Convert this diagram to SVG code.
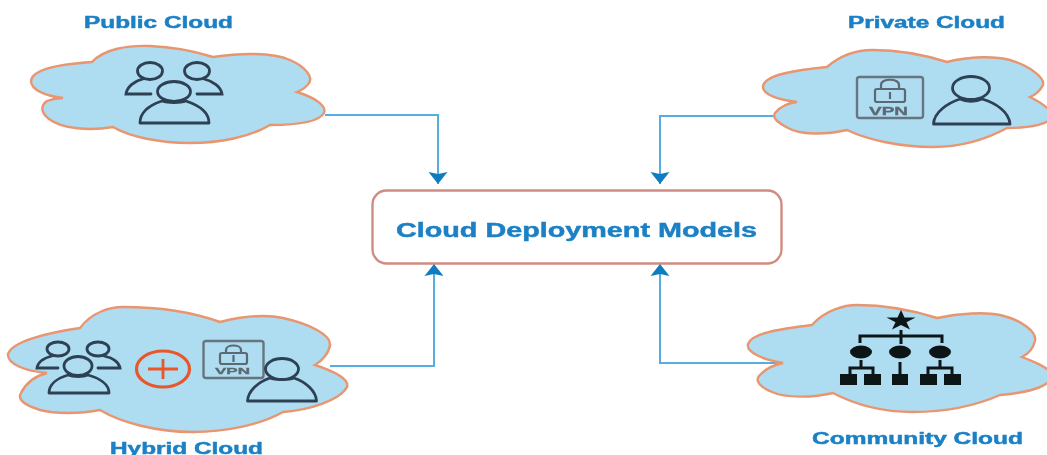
<svg xmlns="http://www.w3.org/2000/svg" width="1047" height="455" viewBox="0 0 1047 455">
<style>
.cloud{fill:#aedcf1;stroke:#e9956f;stroke-width:2.4}
.lbl{font-family:"Liberation Sans",Arial,sans-serif;font-weight:700;fill:#1b80c4;stroke:#1b80c4;stroke-width:.45}
.p{fill:#aedcf1;stroke:#2f4052;stroke-width:2.8;stroke-linejoin:round}
.o{fill:none;stroke:#2f4052;stroke-width:2.8;stroke-linecap:round}
.vb{fill:#aedcf1;stroke:#66757f;stroke-width:2.4}
.vl{fill:none;stroke:#5b6972;stroke-width:2.2}
.vt{font-family:"Liberation Sans",Arial,sans-serif;font-weight:700;fill:#5b6972;stroke:#5b6972;stroke-width:.3}
.conn{fill:none;stroke:#55aede;stroke-width:2}
.k{fill:#111418}
.kl{fill:none;stroke:#111418;stroke-width:3}
</style>
<defs>
<filter id="soft" x="-2%" y="-2%" width="104%" height="104%"><feGaussianBlur stdDeviation="0.65"/></filter>
<marker id="arr" markerUnits="userSpaceOnUse" markerWidth="14" markerHeight="20" refX="12" refY="10" orient="auto"><path d="M0 0.500L12 10L0 19.500L2 10Z" fill="#0f7cc0"/></marker>
</defs>
<rect width="1047" height="455" fill="#fff"/>
<g filter="url(#soft)">
<g id="connectors">
<path class="conn" d="M325 115H438V184" marker-end="url(#arr)"/>
<path class="conn" d="M775 116H660V184" marker-end="url(#arr)"/>
<path class="conn" d="M330 366H434V264" marker-end="url(#arr)"/>
<path class="conn" d="M784 363H660V264" marker-end="url(#arr)"/>
</g>
<g id="center">
<rect x="372.500" y="190.500" width="409" height="73" rx="14" fill="#fff" stroke="#d08c82" stroke-width="2.4"/>
<text class="lbl" x="396" y="236.500" font-size="20" textLength="361" lengthAdjust="spacingAndGlyphs">Cloud Deployment Models</text>
</g>
<g id="public-cloud">
<text class="lbl" x="84" y="28" font-size="16" textLength="149" lengthAdjust="spacingAndGlyphs">Public Cloud</text>
<path class="cloud" d="M31 81C32 69 62 64 92 62C104 49 128 45 150 46C175 47 197 52 213 57C240 53 272 52 290 60C306 67 313 77 309 83C306 88 302 90 297 92C313 97 327 105 324 113C319 122 295 125 270 125C250 137 220 143 190 143C160 143 130 137 113 127C90 131 62 129 49 119C40 112 41 105 47 101C52 99 57 98 63 98C46 96 31 90 31 81Z"/>
<path class="o" d="M151 94H126C127 87 134 81 143 79"/><ellipse class="p" cx="150" cy="71" rx="12.500" ry="8.500"/>
<path class="o" d="M197 94H222C221 87 213 81 204 79"/><ellipse class="p" cx="197" cy="71" rx="12.500" ry="8.500"/>
<path class="p" d="M140 123C140 112 150 105 162 101C168 103 180 103 186 101C198 105 209 112 209 123Z"/><ellipse class="p" cx="174" cy="91.500" rx="16.500" ry="10"/>
</g>
<g id="private-cloud">
<text class="lbl" x="848" y="28" font-size="16" textLength="157" lengthAdjust="spacingAndGlyphs">Private Cloud</text>
<path class="cloud" d="M763 86C765 75 795 70 827 67C842 54 860 50 873 50C900 50 925 55 947 62C970 56 995 56 1010 60C1030 66 1045 78 1043 85C1040 91 1035 95 1030 97C1040 102 1050 108 1052 115C1053 124 1030 128 1007 128C985 140 960 147 933 147C900 147 868 140 847 130C825 135 800 135 788 128C777 122 772 118 775 113C780 107 788 103 797 102C780 100 762 95 763 86Z"/>
<rect class="vb" x="857" y="77" width="66" height="41" rx="2.500"/>
<rect class="vl" x="875" y="89" width="30" height="13" rx="2"/><path class="vl" d="M881 89V85C881 78 899 78 899 85V89M890 92V99"/>
<text class="vt" x="869" y="114.500" font-size="10.500" textLength="39" lengthAdjust="spacingAndGlyphs">VPN</text>
<path class="p" d="M933.500 124C934 112 948 103 960 99C966 102 976 102 982 99C996 103 1009 112 1010 124Z"/>
<ellipse class="p" cx="971" cy="88" rx="18.500" ry="11.500"/>
</g>
<g id="hybrid-cloud">
<path class="cloud" d="M8 354C12 342 45 333 80 328C92 312 110 307 123 307C160 307 195 313 220 322C240 317 265 314 283 318C310 324 331 335 330 345C329 353 322 361 315 365C330 370 350 378 347 387C340 400 310 410 283 412C260 425 225 432 193 432C155 432 120 422 100 410C80 414 55 414 40 410C25 405 17 400 21 393C26 383 35 376 47 373C25 371 7 364 8 354Z"/>
<path class="o" d="M58 368H37C38 362 44 358 52 356"/><ellipse class="p" cx="58" cy="349" rx="11" ry="7"/>
<path class="o" d="M98 368H120C119 362 113 358 104 356"/><ellipse class="p" cx="98" cy="349" rx="11" ry="7"/>
<path class="p" d="M49 393C49 384 58 378 68 375C73 377 83 377 88 375C99 378 109 384 109 393Z"/><ellipse class="p" cx="78" cy="366" rx="14" ry="9.500"/>
<ellipse cx="163" cy="369" rx="26.500" ry="18" fill="none" stroke="#e8562a" stroke-width="3.200"/>
<path d="M148 369H178M163 359V379" fill="none" stroke="#e8562a" stroke-width="2.800"/>
<rect class="vb" x="203.500" y="341" width="60" height="37" rx="2.500"/>
<rect class="vl" x="220" y="353" width="27" height="11" rx="2"/><path class="vl" d="M226 353V350C226 344 241 344 241 350V353M233.500 355V362"/>
<text class="vt" x="215" y="374" font-size="9.500" textLength="35" lengthAdjust="spacingAndGlyphs">VPN</text>
<path class="p" d="M247.500 401C248 391 258 382 270 378C275 380 289 380 294 378C306 382 316 391 316.500 401Z"/><ellipse class="p" cx="282" cy="369" rx="16.500" ry="10.500"/>
<text class="lbl" x="110" y="454" font-size="16" textLength="153" lengthAdjust="spacingAndGlyphs">Hybrid Cloud</text>
</g>
<g id="community-cloud">
<path class="cloud" d="M748 344C752 333 780 329 812 325C825 310 845 305 857 305C888 305 915 311 937 318C960 313 985 312 1000 315C1022 320 1037 332 1035 341C1033 349 1028 354 1022 357C1035 362 1050 368 1052 375C1052 387 1025 393 1000 395C975 406 945 412 913 412C880 412 852 403 833 393C812 398 785 398 772 392C760 387 755 381 759 376C765 369 773 365 783 363C765 360 746 353 748 344Z"/>
<path class="k" d="M901 310L904.500 317.500H915.500L906.500 322.200L910 329.500L901 325L892 329.500L895.500 322.200L886.500 317.500H897.500Z"/>
<path class="kl" d="M860 343V336H942V343M901 330V344M861 360V368M850 375V368H873V375M900 362V374M940 360V368M928 375V368H952V375"/>
<ellipse class="k" cx="861" cy="352" rx="11" ry="6.500"/><ellipse class="k" cx="900" cy="352" rx="11" ry="6.500"/><ellipse class="k" cx="940" cy="352" rx="11" ry="6.500"/>
<rect class="k" x="840" y="374" width="17" height="11"/><rect class="k" x="864" y="374" width="17" height="11"/><rect class="k" x="892" y="374" width="16" height="11"/><rect class="k" x="920" y="374" width="17" height="11"/><rect class="k" x="944" y="374" width="17" height="11"/>
<text class="lbl" x="812" y="444" font-size="16" textLength="211" lengthAdjust="spacingAndGlyphs">Community Cloud</text>
</g>
</g>
</svg>
